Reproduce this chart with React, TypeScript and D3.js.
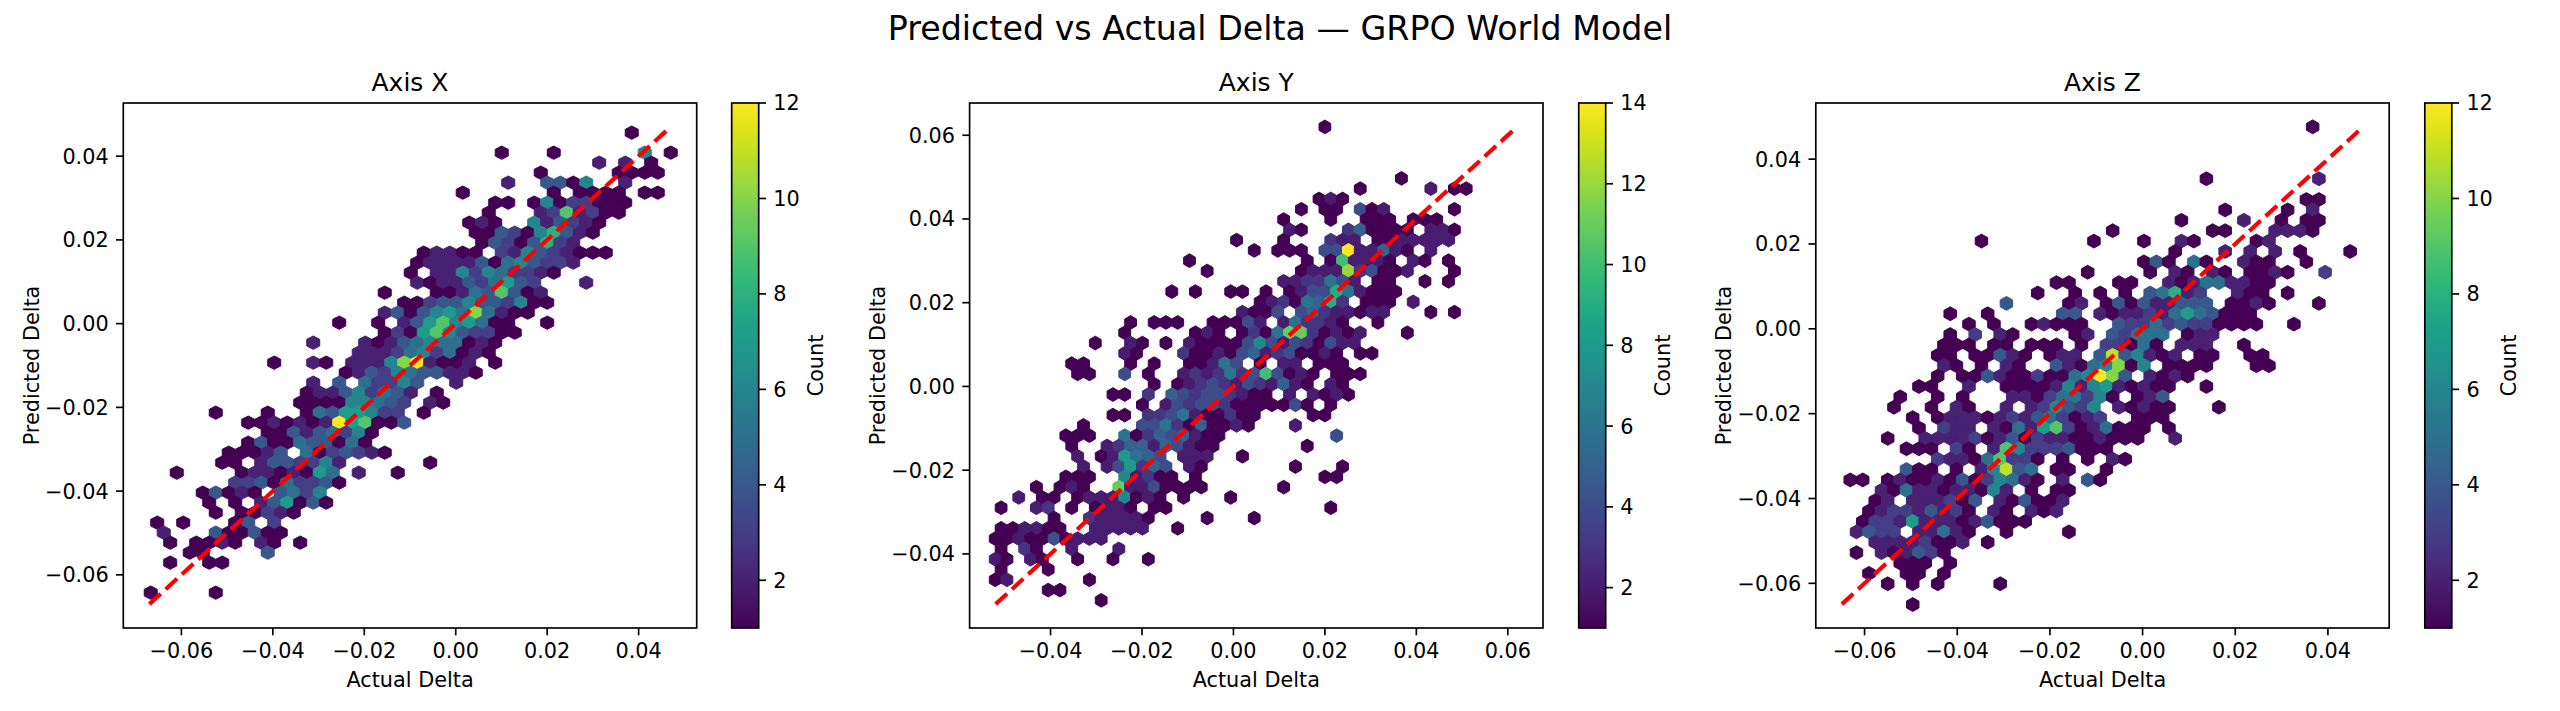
import React, { useEffect, useRef } from 'react';
import * as d3 from 'd3';

// hexbin counts, one entry per half-row of the hex lattice: [row, "col:count ..."]
const cellsX: [number, string][] = [
  [46, '37:1'],
  [44, '27:1 31:1 38:6 40:1'],
  [43, '34:2 36:2 38:1'],
  [42, '30:1 36:1 37:1 38:1 39:1'],
  [41, '27:2 30:4 31:4 32:1 33:6 36:2'],
  [40, '24:1 31:1 33:1 34:1 35:1 36:1 38:1 39:1'],
  [39, '26:1 27:1 29:1 30:6 31:1 32:3 33:3 34:1 35:1 36:1'],
  [38, '26:1 30:2 31:3 32:9 33:2 34:3 35:1 36:1'],
  [37, '24:1 25:2 26:1 29:6 30:2 31:4 32:3 33:2 34:1'],
  [36, '25:1 26:1 27:4 28:3 29:1 30:6 31:8 32:4 33:2 34:1'],
  [35, '25:1 26:4 27:3 28:1 29:4 30:8 31:3 32:2'],
  [34, '21:1 22:2 23:2 24:1 25:1 27:3 28:2 29:6 30:4 31:3 32:2 33:1 34:1 35:1'],
  [33, '20:1 21:2 22:2 23:2 24:2 25:4 26:1 27:5 28:6 29:4 30:3 31:3 32:2'],
  [32, '20:1 22:2 23:2 24:6 25:3 26:6 27:5 28:3 29:3 30:2 31:1'],
  [31, '20:2 21:1 22:2 23:2 24:4 25:3 26:5 27:7 28:4 29:3 33:2'],
  [30, '18:1 22:1 23:1 24:2 25:5 26:4 27:9 28:4 29:1 30:2'],
  [29, '19:1 20:1 21:3 22:4 23:4 24:6 25:4 26:4 27:3 28:6 29:1 30:1'],
  [28, '18:2 19:4 20:1 21:4 22:6 23:7 24:5 25:10 26:5 27:2 28:1 29:1'],
  [27, '14:1 17:1 19:2 20:4 21:7 22:9 23:6 24:7 25:5 26:1 27:1 30:1'],
  [26, '18:1 19:3 20:1 21:7 22:9 23:6 24:4 25:3 26:3 27:1 28:1'],
  [25, '12:2 16:2 17:1 18:2 19:4 20:5 21:6 22:5 23:5 24:1 25:2 26:1'],
  [24, '16:2 17:2 18:2 19:3 20:5 21:6 22:3 23:5 24:1 25:2 26:1'],
  [23, '9:1 12:2 13:1 15:2 16:2 17:2 18:6 19:10 20:12 21:2 22:1 23:1 24:2 26:1'],
  [22, '15:1 16:2 17:4 18:3 19:6 20:5 21:4 22:4 23:2 24:2 25:1'],
  [21, '12:2 14:4 16:5 17:3 18:3 19:6 20:4 23:2'],
  [20, '12:1 13:2 14:2 15:4 16:6 17:3 18:5 19:4 20:2 22:1'],
  [19, '11:1 12:1 13:1 14:1 15:6 16:6 17:5 18:4 19:3 21:2 22:1'],
  [18, '5:1 9:1 12:1 13:5 14:4 15:7 16:7 17:6 18:3 19:3 21:1'],
  [17, '7:1 8:1 9:2 10:1 11:2 12:1 13:2 14:12 15:7 16:9 17:1 18:1 19:4'],
  [16, '9:1 10:1 11:4 12:2 13:4 14:5 15:3 16:6 17:1'],
  [15, '7:1 8:4 9:1 10:1 11:5 12:4 13:4 14:1 15:5 16:1'],
  [14, '6:1 7:1 8:1 9:2 10:4 12:5 13:1 14:3 15:4 16:3 17:2 18:1'],
  [13, '5:1 6:1 8:2 9:4 10:4 11:3 12:3 13:6 14:2 21:1'],
  [12, '2:1 7:1 8:2 9:2 10:1 11:2 12:1 13:7 14:5 16:2 19:1'],
  [11, '6:3 7:3 8:4 9:1 10:5 11:3 12:3 13:4 14:1'],
  [10, '4:1 5:4 6:1 7:2 8:1 10:4 11:5 12:3 13:6'],
  [9, '4:1 6:1 8:2 9:4 10:7 11:1 12:4 13:1'],
  [8, '5:1 7:1 8:1 9:3 10:2 11:1'],
  [7, '0:1 2:1 6:1 7:4 9:3'],
  [6, '1:2 5:4 6:1 7:1 8:4 9:1 10:1'],
  [5, '1:1 3:1 4:1 5:2 6:1 8:2 9:1 11:1'],
  [4, '3:1 4:1 9:4'],
  [3, '1:1 4:1 5:1'],
  [0, '0:1 5:1'],
];

const cellsY: [number, string][] = [
  [46, '28:1'],
  [41, '34:1'],
  [40, '31:1 37:2 39:1 40:1'],
  [39, '27:1 28:2 29:1'],
  [38, '26:1 28:1 29:1 31:4 32:1 33:2 39:1'],
  [37, '24:1 28:1 31:1 32:1 33:1 35:1 36:1 37:1'],
  [36, '25:2 26:1 30:3 31:5 32:1 33:1 34:1 35:1 37:2 38:2 39:1'],
  [35, '20:1 24:1 28:3 29:2 30:2 32:1 33:1 34:2 35:2 36:2 37:2 38:2'],
  [34, '22:1 24:1 25:1 26:1 28:4 29:4 30:14 31:2 32:2 33:5 34:2 35:1 37:2'],
  [33, '16:1 26:1 28:1 29:10 30:2 31:2 32:2 33:1 35:2 36:1 38:1'],
  [32, '18:1 26:1 27:2 28:2 29:2 30:12 31:3 32:4 33:1 34:1 35:2 39:1'],
  [31, '24:2 25:2 26:3 27:3 28:6 29:4 30:2 32:1 33:1 36:1 38:1'],
  [30, '15:1 17:1 20:1 21:1 23:1 25:1 26:2 27:4 28:4 29:9 30:6 31:2 32:1 33:1 34:1'],
  [29, '22:1 23:2 24:3 25:1 26:6 27:5 28:9 29:3 31:1 32:1 33:1 35:2'],
  [28, '21:2 22:1 23:1 24:4 26:4 27:5 28:3 29:2 30:2 31:1 32:2 33:2 37:1 39:1'],
  [27, '11:1 13:1 14:1 15:1 18:1 19:1 20:1 21:4 22:2 24:2 25:6 26:3 27:3 28:2 29:1 32:1'],
  [26, '11:1 17:1 18:2 19:1 21:1 22:3 23:1 24:6 25:11 26:11 27:3 28:1 29:2 30:1 31:2 35:1'],
  [25, '8:1 11:2 12:1 14:1 16:2 17:1 18:1 19:1 20:1 21:4 22:7 23:4 24:2 25:4 26:3 27:1 28:4 29:2 30:2'],
  [24, '11:2 12:1 16:3 17:1 18:1 19:2 20:1 21:4 22:5 23:2 24:3 25:4 26:1 27:1 28:2 29:1 31:1 32:1'],
  [23, '6:1 7:1 11:1 13:1 16:1 17:1 18:2 19:6 20:4 22:1 24:2 25:2 27:1 28:1 29:1'],
  [22, '7:1 8:1 11:4 13:1 16:2 17:3 18:2 19:3 20:6 21:3 22:4 23:10 24:4 25:1 26:2 27:1 29:1 30:1 31:1'],
  [21, '13:1 15:1 16:2 17:3 18:4 19:3 20:2 21:4 22:3 23:2 24:5 25:2 26:1 28:2 29:1'],
  [20, '10:1 11:1 13:3 15:5 16:4 17:3 18:4 19:4 20:3 21:2 22:1 23:1 25:2 27:2 28:1 29:2 30:1'],
  [19, '12:1 14:2 15:4 16:3 17:4 18:4 19:3 20:1 21:1 22:1 23:1 24:1 25:4 26:1 28:1'],
  [18, '10:1 11:1 13:3 14:3 15:4 16:6 17:2 18:1 19:1 20:3 21:1 22:1 27:1 28:1'],
  [17, '7:1 12:4 13:4 14:6 15:3 16:1 17:5 18:1 19:1 20:2 21:1 25:2'],
  [16, '6:1 7:1 8:1 11:6 12:1 13:3 14:5 15:4 16:5 17:2 18:1 19:1 29:4'],
  [15, '6:1 9:2 10:3 11:5 12:5 13:2 14:5 15:4 16:2 17:1 18:1 26:1'],
  [14, '7:2 9:1 10:2 11:8 12:6 13:5 14:4 16:2 17:2 18:2 21:1'],
  [13, '7:2 9:2 10:4 11:8 12:3 13:5 14:4 16:2 17:1 25:1 29:1'],
  [12, '6:1 7:1 8:1 11:7 12:2 13:3 14:1 15:1 17:1 28:1 29:1'],
  [11, '3:1 5:1 6:2 7:1 10:11 11:2 12:2 13:4 14:1 15:1 16:1 17:1 24:1'],
  [10, '2:2 4:1 5:1 7:1 8:2 9:2 10:2 11:7 12:1 13:2 14:1 16:1 20:1'],
  [9, '0:1 3:2 4:3 6:1 8:1 9:2 10:2 11:1 13:1 14:1 28:1'],
  [8, '5:1 8:3 9:2 10:2 11:2 12:2 13:1 18:1 22:1'],
  [7, '0:1 1:1 2:2 3:2 4:1 5:1 8:2 9:2 10:2 11:2 12:2 15:1'],
  [6, '0:1 1:1 2:2 3:1 4:1 5:4 6:1 7:2 8:2 9:2'],
  [5, '0:1 2:3 3:1 6:2 10:2'],
  [4, '0:2 1:1 3:2 4:1 7:1 10:1 13:1'],
  [3, '0:1 4:1'],
  [2, '0:1 1:2 8:1'],
  [1, '4:1 5:1'],
  [0, '9:1'],
];

const cellsZ: [number, string][] = [
  [46, '37:1'],
  [41, '28:1 37:2'],
  [39, '36:1 37:1'],
  [38, '30:1 35:1 37:2'],
  [37, '26:1 31:2 34:1 36:1 37:1'],
  [36, '21:1 29:1 30:1 34:2 35:2 36:2 37:1'],
  [35, '10:1 19:1 23:1 26:2 27:1 32:1 33:2'],
  [34, '26:1 30:2 32:2 34:2 36:1 40:1'],
  [33, '23:1 24:4 25:1 27:5 28:1 31:2 32:1 33:1 36:1'],
  [32, '19:1 24:1 26:2 27:1 29:2 30:1 32:1 33:1 34:2 35:1 38:3'],
  [31, '16:1 17:1 21:1 22:1 25:2 26:1 27:2 28:5 29:5 30:2 31:2 32:1 33:1'],
  [30, '15:1 18:1 20:1 22:1 24:4 25:5 26:8 27:2 28:3 31:2 32:1 33:1 35:1'],
  [29, '12:4 17:1 18:2 20:1 21:4 22:1 23:4 24:2 25:2 26:4 27:4 28:4 30:1 31:1 32:2 33:1 37:1'],
  [28, '8:1 11:1 17:4 18:4 20:2 21:1 22:2 23:2 24:3 25:2 26:5 27:7 28:5 29:4 30:1 31:1 32:1'],
  [27, '9:1 11:1 14:1 15:2 16:1 17:1 18:1 21:4 22:3 23:3 24:5 25:3 26:4 27:3 28:3 29:1 30:1 31:1 32:1 35:1'],
  [26, '8:1 10:3 12:2 13:1 18:1 19:2 21:4 22:3 23:5 24:5 25:5 27:1 28:2 29:2'],
  [25, '7:1 8:1 9:1 11:1 12:1 14:1 15:1 16:1 18:1 20:3 21:3 22:1 23:5 24:1 26:2 27:2 28:2 31:1'],
  [24, '7:1 8:1 10:1 11:1 12:4 13:2 14:1 16:1 17:2 18:2 20:4 21:11 22:4 23:6 24:2 25:1 26:2 28:1 29:1 32:1 33:1'],
  [23, '7:2 8:1 10:1 12:2 13:1 16:4 17:2 18:1 19:5 20:6 21:10 22:1 23:6 25:1 26:1 27:1 28:1 32:1 33:1'],
  [22, '7:1 9:1 10:1 11:4 12:2 13:1 14:1 15:3 16:1 17:1 18:5 19:6 20:12 21:10 22:4 24:2 25:1 26:2 27:1'],
  [21, '5:1 6:1 9:2 12:1 13:1 14:1 15:1 16:2 17:6 18:2 19:6 20:7 21:2 22:1 23:2 24:1 25:1 28:1'],
  [20, '4:1 7:1 9:1 13:2 14:2 15:1 16:3 17:5 18:5 19:3 20:6 21:1 23:1 24:2 25:4'],
  [19, '3:1 6:1 8:2 9:1 12:2 14:2 15:3 16:6 17:4 18:3 19:6 21:2 22:1 23:2 24:1 25:1 29:1'],
  [18, '5:1 7:1 8:2 9:2 10:2 11:1 12:2 13:3 14:2 15:4 16:5 17:3 18:1 19:2 20:3 23:1 24:1 25:1'],
  [17, '5:1 7:3 8:2 9:2 11:2 12:1 13:5 14:2 15:7 16:9 17:3 18:1 19:2 20:5 21:1 22:1 23:1 25:1'],
  [16, '3:1 6:2 7:2 8:2 9:2 10:3 11:1 12:2 13:4 14:1 15:3 16:2 17:2 18:1 19:1 20:2 21:1 22:1 23:1 26:2'],
  [15, '4:1 5:1 6:1 8:3 9:1 11:2 12:9 13:6 14:3 15:3 16:3 17:4 18:1 19:1 20:1'],
  [14, '7:3 8:2 9:2 10:1 11:5 12:9 13:3 14:3 15:1 17:1 19:1 21:2 22:1'],
  [13, '4:4 5:1 6:1 8:1 10:2 11:6 12:11 13:4 14:5 16:1 17:1 20:1'],
  [12, '0:1 1:1 3:1 4:2 5:1 6:1 7:2 8:1 9:4 10:1 11:3 12:6 13:5 14:2 15:1 17:2 19:4 20:1'],
  [11, '2:2 3:1 4:5 5:2 6:2 7:1 8:2 9:2 10:1 11:6 12:2 14:1 16:1 17:1'],
  [10, '2:1 3:2 5:2 6:2 7:2 8:3 9:1 10:4 12:2 13:1 14:4 15:1 16:1 17:2'],
  [9, '1:1 2:2 3:3 4:3 5:2 6:4 7:2 8:3 9:1 11:2 12:1 14:2 15:1 16:2'],
  [8, '1:1 2:3 3:3 4:2 5:7 6:2 7:2 8:2 9:1 10:2 11:4 12:1 13:1 14:1'],
  [7, '0:2 1:4 2:3 3:3 5:2 6:2 7:5 8:2 9:1 12:1 17:1'],
  [6, '2:2 3:2 4:2 5:2 6:3 7:1 8:1 9:2 11:1'],
  [5, '0:1 2:2 3:1 4:2 5:4 6:3 7:1'],
  [4, '4:1 5:1 6:1 8:1'],
  [3, '1:1 4:1 5:1 7:1'],
  [2, '3:1 5:1 7:1 12:1'],
  [0, '5:1'],
];

const panelTitles = ['Axis X', 'Axis Y', 'Axis Z'];
const panelCells = [cellsX, cellsY, cellsZ];
const countMax = [12, 14, 12];
// axis limits (same for x and y) and the y = x reference line
const axisLims: [number, number][] = [[-0.0727, 0.0527], [-0.0577, 0.0677], [-0.07053, 0.05323]];
const diagLims: [number, number][] = [[-0.067, 0.047], [-0.052, 0.062], [-0.0649, 0.0476]];
// hexbin lattice: origin and cell size in data units (gridsize 40)
const hexGrids = [
  { x0: -0.0667, sx: 0.002843, y0: -0.06426, sy: 0.004777 },
  { x0: -0.0521, sx: 0.002575, y0: -0.0511, sy: 0.004917 },
  { x0: -0.0631, sx: 0.0026975, y0: -0.065, sy: 0.004896 },
];
const axisTicks = [
  [-0.06, -0.04, -0.02, 0, 0.02, 0.04],
  [-0.04, -0.02, 0, 0.02, 0.04, 0.06],
  [-0.06, -0.04, -0.02, 0, 0.02, 0.04],
];

const W = 2560;
const H = 711;
const FONT = "'DejaVu Sans', sans-serif";
const AX_LEFT = [123.3, 969.6, 1815.8];
const AX_TOP = 103;
const AX_W = 573.4;
const AX_H = 525;
const CB_LEFT = [731.7, 1578.7, 2424.8];
const CB_W = 27;

const fmt = (d: number) => (d < 0 ? '\u2212' : '') + Math.abs(d).toFixed(2);

const parseCells = (rows: [number, string][]) =>
  rows.flatMap(([r, s]) =>
    s.split(/\s+/).filter(Boolean).map(tok => {
      const [i, c] = tok.split(':').map(Number);
      return { r, i, c };
    })
  );

const App: React.FC = () => {
  const svgRef = useRef<SVGSVGElement>(null);

  useEffect(() => {
    const svg = d3.select(svgRef.current);
    svg.selectAll('*').remove();
    svg.append('rect').attr('width', W).attr('height', H).attr('fill', 'white');

    const defs = svg.append('defs');

    // figure title
    svg.append('text')
      .attr('x', W / 2)
      .attr('y', 40)
      .attr('text-anchor', 'middle')
      .style('font-family', FONT)
      .style('font-size', '33.3px')
      .text('Predicted vs Actual Delta \u2014 GRPO World Model');

    panelTitles.forEach((title, p) => {
      const left = AX_LEFT[p];
      const x = d3.scaleLinear().domain(axisLims[p]).range([left, left + AX_W]);
      const y = d3.scaleLinear().domain(axisLims[p]).range([AX_TOP + AX_H, AX_TOP]);
      const color = d3.scaleSequential(d3.interpolateViridis).domain([1, countMax[p]]);
      const g = svg.append('g');
      const { x0, sx, y0, sy } = hexGrids[p];

      // hexagon outline relative to a cell centre, as matplotlib's hexbin does
      const hexOffsets = [[0.5, -0.5], [0.5, 0.5], [0, 1], [-0.5, 0.5], [-0.5, -0.5], [0, -1]]
        .map(([a, b]) => [a * sx, (b * sy) / 3]);

      const cells = parseCells(panelCells[p]);
      g.append('g')
        .selectAll('path')
        .data(cells)
        .enter()
        .append('path')
        .attr('d', d => {
          const cx = x0 + sx * (d.i + (d.r % 2 ? 0.5 : 0));
          const cy = y0 + (sy * d.r) / 2;
          return 'M' + hexOffsets.map(([dx, dy]) => `${x(cx + dx)},${y(cy + dy)}`).join('L') + 'Z';
        })
        .attr('fill', d => color(d.c))
        .attr('stroke', d => color(d.c))
        .attr('stroke-width', 1);

      // y = x reference line
      g.append('line')
        .attr('x1', x(diagLims[p][0]))
        .attr('y1', y(diagLims[p][0]))
        .attr('x2', x(diagLims[p][1]))
        .attr('y2', y(diagLims[p][1]))
        .attr('stroke', 'red')
        .attr('stroke-width', 4.17)
        .attr('stroke-dasharray', '15.4,6.7');

      // frame
      g.append('rect')
        .attr('x', left)
        .attr('y', AX_TOP)
        .attr('width', AX_W)
        .attr('height', AX_H)
        .attr('fill', 'none')
        .attr('stroke', 'black')
        .attr('stroke-width', 1.67);

      // x ticks
      const xt = g.append('g');
      axisTicks[p].forEach(t => {
        xt.append('line')
          .attr('x1', x(t)).attr('x2', x(t))
          .attr('y1', AX_TOP + AX_H).attr('y2', AX_TOP + AX_H + 7.3)
          .attr('stroke', 'black').attr('stroke-width', 1.67);
        xt.append('text')
          .attr('x', x(t))
          .attr('y', AX_TOP + AX_H + 30.3)
          .attr('text-anchor', 'middle')
          .style('font-family', FONT)
          .style('font-size', '20.8px')
          .text(fmt(t));
        xt.append('line')
          .attr('x1', left).attr('x2', left - 7.3)
          .attr('y1', y(t)).attr('y2', y(t))
          .attr('stroke', 'black').attr('stroke-width', 1.67);
        xt.append('text')
          .attr('x', left - 14.6)
          .attr('y', y(t))
          .attr('dy', '0.36em')
          .attr('text-anchor', 'end')
          .style('font-family', FONT)
          .style('font-size', '20.8px')
          .text(fmt(t));
      });

      // titles and labels
      g.append('text')
        .attr('x', left + AX_W / 2)
        .attr('y', AX_TOP - 12.4)
        .attr('text-anchor', 'middle')
        .style('font-family', FONT)
        .style('font-size', '25px')
        .text(title);
      g.append('text')
        .attr('x', left + AX_W / 2)
        .attr('y', 687)
        .attr('text-anchor', 'middle')
        .style('font-family', FONT)
        .style('font-size', '20.8px')
        .text('Actual Delta');
      g.append('text')
        .attr('transform', `translate(${left - 84.5},${AX_TOP + AX_H / 2}) rotate(-90)`)
        .attr('text-anchor', 'middle')
        .style('font-family', FONT)
        .style('font-size', '20.8px')
        .text('Predicted Delta');

      // colorbar
      const cbLeft = CB_LEFT[p];
      const gradId = `viridis-${p}`;
      const grad = defs.append('linearGradient')
        .attr('id', gradId)
        .attr('x1', 0).attr('y1', 1).attr('x2', 0).attr('y2', 0);
      d3.range(0, 1.0001, 0.05).forEach(t => {
        grad.append('stop').attr('offset', t).attr('stop-color', d3.interpolateViridis(t));
      });
      g.append('rect')
        .attr('x', cbLeft)
        .attr('y', AX_TOP)
        .attr('width', CB_W)
        .attr('height', AX_H)
        .attr('fill', `url(#${gradId})`)
        .attr('stroke', 'black')
        .attr('stroke-width', 1.67);
      const cy = d3.scaleLinear().domain([1, countMax[p]]).range([AX_TOP + AX_H, AX_TOP]);
      d3.range(2, countMax[p] + 1, 2).forEach(t => {
        g.append('line')
          .attr('x1', cbLeft + CB_W).attr('x2', cbLeft + CB_W + 7.3)
          .attr('y1', cy(t)).attr('y2', cy(t))
          .attr('stroke', 'black').attr('stroke-width', 1.67);
        g.append('text')
          .attr('x', cbLeft + CB_W + 14.6)
          .attr('y', cy(t))
          .attr('dy', '0.36em')
          .style('font-family', FONT)
          .style('font-size', '20.8px')
          .text(String(t));
      });
      g.append('text')
        .attr('transform', `translate(${cbLeft + 91},${AX_TOP + AX_H / 2}) rotate(-90)`)
        .attr('text-anchor', 'middle')
        .style('font-family', FONT)
        .style('font-size', '20.8px')
        .text('Count');
    });
  }, []);

  return (
    <div style={{ position: 'absolute', left: 0, top: 0 }}>
      <svg ref={svgRef} width={W} height={H} style={{ display: 'block' }} />
    </div>
  );
};

export default App;
